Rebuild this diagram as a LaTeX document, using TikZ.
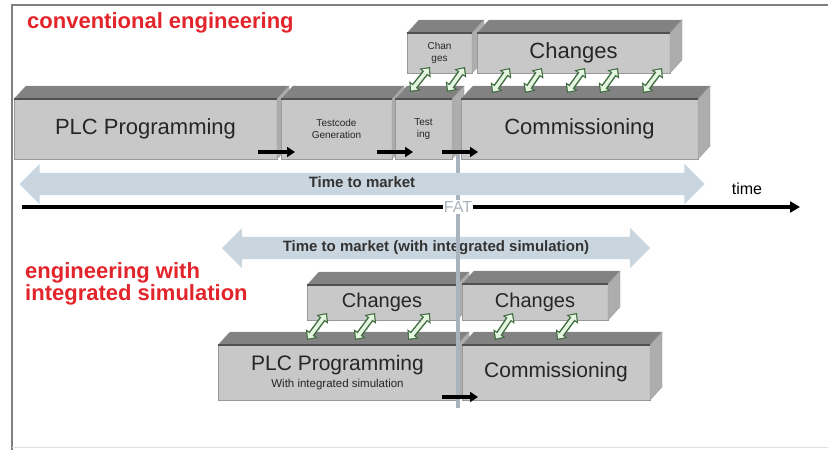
\documentclass[tikz,border=0pt]{standalone}
\usepackage{fontspec}
\setmainfont{Liberation Sans}
\usetikzlibrary{arrows.meta,shapes.arrows}

\definecolor{frontgray}{HTML}{C8C8C8}
\definecolor{topgray}{HTML}{828282}
\definecolor{sidegray}{HTML}{ADADAD}
\definecolor{edgegray}{HTML}{505050}
\definecolor{ttmblue}{HTML}{C9D6DF}
\definecolor{fatgray}{HTML}{A9B3BD}
\definecolor{titlered}{HTML}{E2242B}
\definecolor{lkdark}{HTML}{3F6B3F}
\definecolor{lkfill}{HTML}{E4F6E0}

\tikzset{
  box/.style={rectangle, draw=gray!80, fill=frontgray, anchor=north west,
    inner sep=0pt, outer sep=0pt, align=center, text=black!85},
  topface/.style={fill=topgray, draw=gray!80},
  sideface/.style={fill=sidegray, draw=gray!80},
  ttm/.style={double arrow, fill=ttmblue, double arrow head extend=9pt,
    inner xsep=0pt, inner ysep=4.5pt, text height=10pt, text depth=3pt,
    font=\bfseries\fontsize{15}{15}\selectfont, text=black!80},
  push/.style={line width=4pt, -{Triangle[length=8pt,width=10pt]}},
  link/.style={line width=6.5pt, draw=lkdark,
    {Triangle[length=8pt,width=14pt]}-{Triangle[length=8pt,width=14pt]},
    postaction={draw=lkfill, line width=3.6pt,
      {Triangle[length=5pt,width=9pt]}-{Triangle[length=5pt,width=9pt]},
      shorten <=1.8pt, shorten >=1.8pt}},
  title/.style={text=titlered, font=\bfseries\fontsize{22}{22}\selectfont,
    align=left, inner sep=0pt}
}

\begin{document}
\begin{tikzpicture}[x=1pt,y=-1pt]
\useasboundingbox (0,0) rectangle (828,450);

% frame
\coordinate (fTL) at (12,5);
\coordinate (fTR) at (828,5);
\coordinate (fBL) at (12,450);
\coordinate (fBR) at (828,447);
\coordinate (fBM) at (12,447);
\draw[gray, line width=1.5pt] (fTR) -- (fTL) -- (fBL);
\draw[gray!25] (fBM) -- (fBR);

% FAT marker
\node[text=fatgray, font=\fontsize{16}{16}\selectfont, inner sep=1pt] (fat) at (458,207) {FAT};
\coordinate (fatTop) at (458,100);
\coordinate (fatBot) at (458,408);
\draw[fatgray, line width=3.5pt] (fatTop) -- (fat);

% conventional engineering
\foreach \n/\x/\y/\w/\h/\fs/\lbl in {
  plc/14/99/263/60/22/{PLC Programming},
  tcg/281/99/111/60/10/{Testcode\\Generation},
  tst/395/99/57/60/10/{Test\\ing},
  com/461/99/237/60/22/{Commissioning},
  chs/407/33/65/40/10/{Chan\\ges},
  chb/477/33/193/40/22/{Changes}}
{
  \node[box, minimum width=\w, minimum height=\h, font=\fontsize{\fs}{12}\selectfont] (\n) at (\x,\y) {\lbl};
  \path[topface] (\n.north west) -- ++(12,-13) -- ([shift={(12,-13)}]\n.north east) -- (\n.north east) -- cycle;
  \path[sideface] (\n.north east) -- ++(12,-13) -- ([shift={(12,-13)}]\n.south east) -- (\n.south east) -- cycle;
  \draw[edgegray, line width=1.2pt] (\n.north west) -- (\n.north east);
}

\node[ttm, minimum height=685] (ttmA) at (362,184) {Time to market};

% time axis
\coordinate (t0) at (22,207);
\coordinate (t1) at (800,207);
\draw[line width=4pt] (t0) -- (fat);
\draw[line width=4pt, -{Triangle[length=10pt,width=11pt]}] (fat) -- (t1);
\node[font=\fontsize{16}{16}\selectfont] (time) at (747,189) {time};

\node[title, anchor=base west] (conv) at (27,28) {conventional engineering};
\node[title, anchor=west] (simu) at (25,284) {engineering with\\integrated simulation};

% engineering with integrated simulation
\node[ttm, minimum height=428] (ttmB) at (436,248) {Time to market (with integrated simulation)};

\foreach \n/\x/\y/\w/\h/\fs/\lbl in {
  chL/307/285/150/35/20/{Changes},
  chR/462/284/146/36/20/{Changes},
  plcB/218/345/239/55/21/{PLC Programming\\[3pt]{\fontsize{11.5}{12}\selectfont With integrated simulation}},
  comB/462/345/188/55/21/{Commissioning}}
{
  \node[box, minimum width=\w, minimum height=\h, font=\fontsize{\fs}{12}\selectfont] (\n) at (\x,\y) {\lbl};
  \path[topface] (\n.north west) -- ++(12,-13) -- ([shift={(12,-13)}]\n.north east) -- (\n.north east) -- cycle;
  \path[sideface] (\n.north east) -- ++(12,-13) -- ([shift={(12,-13)}]\n.south east) -- (\n.south east) -- cycle;
  \draw[edgegray, line width=1.2pt] (\n.north west) -- (\n.north east);
}

\draw[fatgray, line width=3.5pt] (fat) -- (fatBot);

% hand-over arrows
\draw[push] ([shift={(-19,-7)}]plc.south east) -- ([shift={(14,-7)}]tcg.south west);
\draw[push] ([shift={(-15,-7)}]tcg.south east) -- ([shift={(18,-7)}]tst.south west);
\draw[push] ([shift={(-10,-7)}]tst.south east) -- ([shift={(17,-7)}]com.south west);
\draw[push] ([shift={(-15,-3)}]plcB.south east) -- ([shift={(16,-3)}]comB.south west);

% change loops
\foreach \a/\b in {15/23,52/58}
  \draw[link] ([shift={(\a,-7)}]tst.north west) -- ([shift={(\b,-6)}]chs.south west);
\foreach \a/\b in {31/33,64/65,106/108,139/141,182/185}
  \draw[link] ([shift={(\a,-6)}]com.north west) -- ([shift={(\b,-5)}]chb.south west);
\foreach \a/\b in {89/20,137/68,190/123}
  \draw[link] ([shift={(\a,-5)}]plcB.north west) -- ([shift={(\b,-7)}]chL.south west);
\foreach \a/\b in {33/51,95/115}
  \draw[link] ([shift={(\a,-5)}]comB.north west) -- ([shift={(\b,-7)}]chR.south west);

\end{tikzpicture}
\end{document}
